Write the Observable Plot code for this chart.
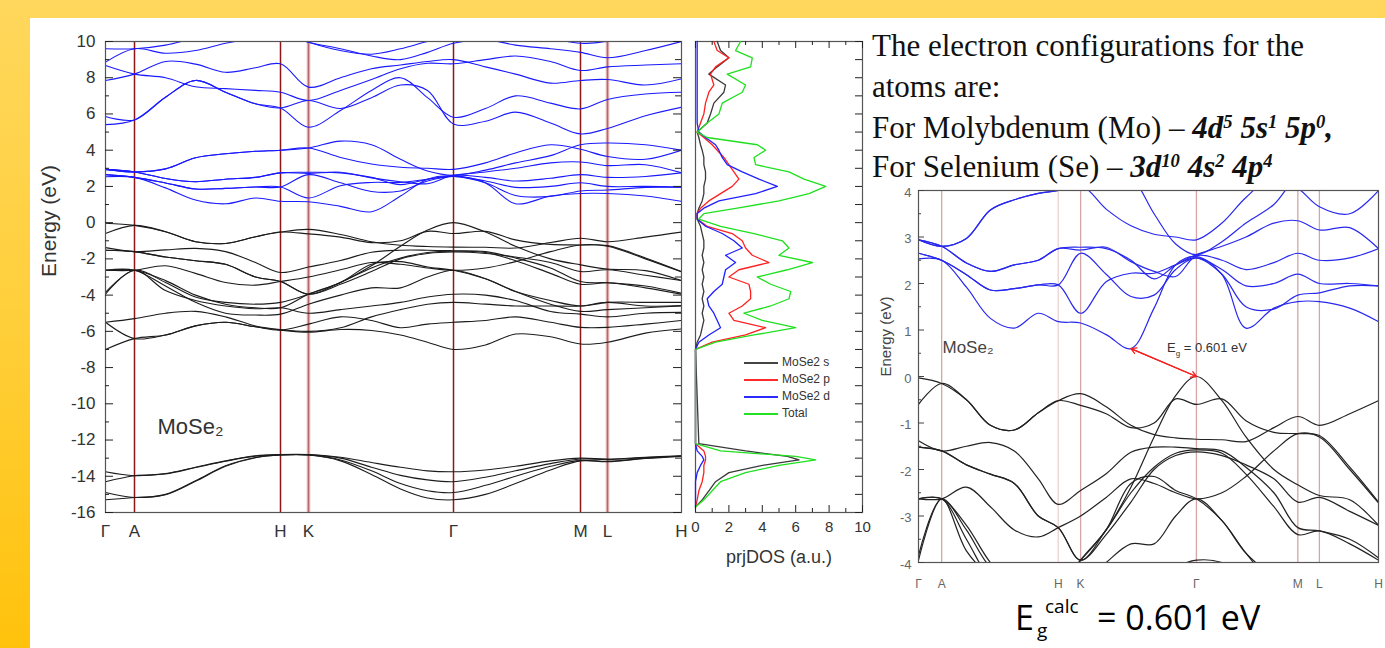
<!DOCTYPE html>
<html><head><meta charset="utf-8">
<script src="https://cdn.jsdelivr.net/npm/d3@7"></script>
<script src="https://cdn.jsdelivr.net/npm/@observablehq/plot@0.6"></script>
<style>
html,body{margin:0;padding:0;}
body{width:1385px;height:648px;position:relative;overflow:hidden;background:linear-gradient(180deg,#ffd75c 0%,#ffcf3a 50%,#ffc20c 100%);}
#panel{position:absolute;left:30px;top:18px;width:1355px;height:630px;background:#fff;}
.abs{position:absolute;}
.ser{font-family:"Liberation Serif","Times New Roman",serif;font-size:31px;line-height:24px;color:#111;white-space:nowrap;left:872px;}
sup{vertical-align:0.55em;font-size:0.6em;line-height:0;}
#legend{left:744px;top:354px;font-family:"Liberation Sans",Arial,sans-serif;font-size:12px;line-height:17px;color:#333;}
#legend .sw{display:inline-block;width:34px;height:0;vertical-align:middle;margin-right:4px;}
#egl{left:1167px;top:340px;font-family:"Liberation Sans",Arial,sans-serif;font-size:13px;color:#333;white-space:nowrap;}
#egl sub{font-size:8px;}
.cal{font-family:"Open Sans",sans-serif;color:#000;white-space:nowrap;line-height:1;}
</style></head><body>
<div id="panel"></div>
<div id="left" class="abs" style="left:30px;top:18px"></div>
<div id="dos" class="abs" style="left:680px;top:18px"></div>
<div id="right" class="abs" style="left:870px;top:180px"></div>
<div class="abs ser" style="top:33.5px">The electron configurations for the</div>
<div class="abs ser" style="top:75px">atoms are:</div>
<div class="abs ser" style="top:116px">For Molybdenum (Mo) – <b><i>4d<sup>5</sup> 5s<sup>1</sup> 5p<sup>0</sup>,</i></b></div>
<div class="abs ser" style="top:155px">For Selenium (Se) – <b><i>3d<sup>10</sup> 4s<sup>2</sup> 4p<sup>4</sup></i></b></div>
<div id="legend" class="abs">
<div><span class="sw" style="border-top:2px solid #444"></span>MoSe2 s</div>
<div><span class="sw" style="border-top:2px solid #ff2a2a"></span>MoSe2 p</div>
<div><span class="sw" style="border-top:2px solid #2a2aff"></span>MoSe2 d</div>
<div><span class="sw" style="border-top:2px solid #22e022"></span>Total</div>
</div>
<div id="egl" class="abs"></div>
<div class="abs cal" style="left:1015px;top:600px;font-size:34px">E</div>
<div class="abs cal" style="left:1045px;top:597px;font-size:19px">calc</div>
<div class="abs cal" style="left:1037px;top:621px;font-size:19px">g</div>
<div id="calv" class="abs cal" style="left:1097px;top:600px;font-size:34px"></div>
<script>
// ---------- k-path ----------
const kPos = [0, 29, 60, 90, 120, 150, 175, 203, 235, 266, 295, 322, 348, 380, 410, 445, 475, 502, 540, 576];
const symK = [0, 29, 175, 203, 348, 475, 502, 576];
const symLabels = ["Γ", "A", "H", "K", "Γ", "M", "L", "H"];

// ---------- conduction bands (eV) ----------
const cb1 = [2.53, 2.50, 1.92, 1.25, 1.04, 1.36, 1.18, 1.15, 0.90, 0.601, 1.47, 2.40, 2.58, 2.19, 1.04, 1.47, 1.61, 1.61, 1.47, 1.18];
const cb2 = [2.65, 2.50, 2.19, 1.86, 1.89, 1.97, 1.97, 1.36, 2.04, 2.22, 2.22, 2.40, 2.55, 2.20, 1.50, 1.45, 1.75, 1.80, 1.95, 1.95];
const cb3 = [2.65, 2.50, 2.19, 1.86, 1.89, 1.97, 1.97, 2.65, 2.20, 1.72, 1.75, 2.30, 2.55, 2.30, 1.95, 2.00, 2.20, 2.00, 2.00, 1.95];
const cb4 = [2.94, 2.80, 2.44, 2.26, 2.40, 2.50, 2.75, 2.72, 2.78, 2.47, 2.26, 2.15, 2.60, 2.50, 2.30, 2.45, 2.65, 2.50, 2.55, 2.75];
const cb5 = [2.94, 2.80, 2.44, 2.26, 2.40, 2.50, 2.75, 2.78, 2.75, 2.50, 2.10, 2.40, 2.62, 2.80, 3.00, 3.30, 3.35, 3.15, 3.20, 2.75];
const cb6 = [2.94, 2.80, 2.97, 3.58, 3.80, 3.94, 4.00, 4.12, 4.50, 4.30, 3.50, 2.85, 2.62, 2.90, 3.30, 3.70, 4.30, 4.40, 4.30, 4.00];
const cb7 = [2.94, 2.80, 2.97, 3.58, 3.80, 3.94, 4.00, 4.12, 3.60, 3.24, 3.06, 3.00, 2.94, 3.30, 3.85, 4.30, 4.05, 3.65, 3.50, 4.00];
const cb8 = [5.41, 5.67, 6.92, 7.85, 7.20, 6.56, 6.33, 5.27, 6.19, 7.30, 8.00, 6.90, 5.82, 6.30, 7.00, 6.60, 6.28, 6.80, 7.10, 7.20];
const cb9 = [5.86, 5.67, 6.92, 7.85, 7.20, 6.56, 6.33, 6.74, 6.30, 6.90, 7.60, 7.30, 5.45, 5.60, 6.10, 5.50, 4.90, 5.20, 5.90, 6.37];
const cb10 = [7.85, 8.20, 8.90, 8.75, 8.30, 8.55, 8.77, 7.48, 8.00, 8.50, 8.70, 8.90, 9.00, 8.60, 8.20, 7.70, 7.85, 7.90, 7.60, 7.94];
const cb11 = [8.67, 8.20, 8.00, 7.50, 7.40, 7.30, 7.20, 6.74, 7.30, 7.90, 8.50, 8.80, 8.77, 9.00, 9.20, 8.90, 8.40, 8.60, 8.70, 8.77];
const cb12 = [8.86, 9.60, 9.35, 9.50, 9.90, 10.2, 10.4, 9.96, 9.60, 9.20, 9.00, 9.40, 9.90, 10.1, 9.80, 9.60, 9.40, 9.10, 9.50, 10.0];
const cb13 = [9.60, 9.60, 9.80, 10.2, 10.5, 10.5, 10.5, 9.96, 9.50, 9.30, 9.60, 10.0, 10.3, 10.5, 10.5, 10.2, 9.90, 10.0, 10.2, 10.3];

// ---------- valence bands (eV) ----------
const vb1 = [-0.03, -0.15, -0.50, -1.05, -1.15, -0.78, -0.52, -0.37, -0.65, -1.05, -1.25, -1.32, -1.35, -1.36, -1.40, -1.10, -0.86, -1.05, -0.80, -0.52];
const vb2 = [-0.60, -0.15, -0.50, -1.05, -1.15, -0.78, -0.52, -0.62, -0.80, -1.10, -1.00, -0.48, -0.60, -0.48, -0.95, -1.20, -1.23, -1.27, -1.95, -2.70];
const vbg = [-3.85, -2.63, -3.30, -4.10, -4.40, -4.50, -4.40, -3.95, -3.30, -2.38, -1.30, -0.41, 0.00, -0.52, -1.30, -2.00, -2.33, -2.56, -2.65, -3.20];
const vb3 = [-1.38, -1.60, -1.50, -1.42, -1.60, -2.20, -2.75, -2.45, -2.09, -1.63, -1.52, -1.52, -1.55, -1.60, -1.95, -2.50, -3.25, -3.32, -3.50, -3.90];
const vb4 = [-1.52, -1.60, -1.90, -2.10, -2.30, -3.00, -3.25, -3.95, -3.30, -2.50, -1.95, -1.65, -1.58, -1.65, -2.10, -2.80, -3.40, -3.32, -3.60, -3.95];
const vb5 = [-2.63, -2.63, -2.38, -2.80, -3.30, -3.45, -3.25, -3.00, -2.60, -2.20, -2.30, -2.50, -2.63, -2.50, -2.15, -1.60, -1.23, -1.30, -2.00, -2.72];
const vb6 = [-2.63, -2.63, -3.20, -4.00, -4.50, -4.70, -4.70, -3.95, -3.30, -2.30, -2.15, -2.45, -2.63, -3.10, -3.80, -4.50, -4.90, -4.80, -4.70, -4.60];
const vb7 = [-1.52, -1.60, -1.90, -2.10, -2.30, -3.00, -3.25, -3.95, -3.40, -2.70, -2.00, -1.70, -1.62, -1.70, -1.90, -2.20, -2.70, -2.60, -2.90, -3.20];
const vb8 = [-2.63, -2.63, -3.50, -4.40, -5.00, -5.10, -5.05, -4.50, -4.00, -3.60, -3.60, -3.00, -2.63, -3.10, -3.80, -4.30, -4.60, -4.40, -4.40, -4.40];
const vd1 = [-7.00, -6.40, -6.20, -5.70, -5.50, -5.75, -5.93, -6.05, -5.90, -5.95, -6.20, -6.60, -7.00, -6.75, -6.15, -6.30, -6.70, -6.60, -6.10, -5.87];
const vd2 = [-5.50, -6.40, -6.20, -5.70, -5.50, -5.75, -5.93, -5.60, -5.20, -5.40, -5.80, -5.60, -5.50, -5.40, -5.20, -5.50, -5.78, -5.78, -5.60, -5.40];
const vd3 = [-3.95, -2.63, -3.75, -4.30, -4.60, -4.75, -4.70, -5.00, -4.80, -4.60, -4.40, -4.10, -3.95, -4.00, -4.30, -4.90, -5.05, -5.20, -5.00, -4.95];
const vd4 = [-5.50, -5.30, -5.00, -4.90, -5.20, -5.70, -5.90, -6.00, -5.80, -5.20, -4.80, -4.50, -4.40, -4.50, -4.60, -4.60, -4.60, -4.40, -4.60, -4.58];
const cc1 = [-13.75, -13.97, -13.85, -13.50, -13.15, -12.87, -12.80, -12.80, -12.95, -13.24, -13.50, -13.70, -13.75, -13.65, -13.45, -13.15, -13.00, -13.05, -12.95, -12.87];
const cc2 = [-14.30, -13.97, -13.87, -13.52, -13.17, -12.89, -12.81, -12.81, -13.00, -13.50, -13.95, -14.20, -14.30, -14.05, -13.70, -13.30, -13.05, -13.08, -12.97, -12.88];
const cc3 = [-14.90, -15.17, -15.00, -14.25, -13.42, -12.96, -12.82, -12.82, -13.10, -13.70, -14.40, -14.80, -14.90, -14.50, -14.00, -13.45, -13.12, -13.18, -13.00, -12.89];
const cc4 = [-15.30, -15.17, -15.02, -14.28, -13.45, -12.98, -12.83, -12.83, -13.15, -13.90, -14.70, -15.20, -15.30, -15.00, -14.40, -13.65, -13.15, -13.20, -13.02, -12.90];

// ---------- projected DOS ----------
const dosE = [10, 9.5, 9.1, 8.6, 8.2, 7.6, 7.2, 6.6, 6.0, 5.5, 5.0, 4.7, 4.3, 4.0, 3.6, 3.2, 2.8, 2.4, 2.0, 1.6, 1.2, 0.8, 0.5, 0.2,
  -0.2, -0.6, -1.0, -1.4, -1.8, -2.2, -2.6, -3.0, -3.4, -3.8, -4.2, -4.6, -5.0, -5.4, -5.8, -6.2, -6.6, -7.0,
  -12.2, -12.6, -12.9, -13.1, -13.4, -13.8, -14.3, -14.8, -15.3, -15.7];
const dosS = [1.3, 1.5, 2.0, 1.3, 0.8, 1.8, 1.7, 1.1, 0.9, 0.7, 0.1, 0.2, 0.3, 0.4, 0.5, 0.5, 0.6, 0.6, 0.5, 0.5, 0.4, 0.2, 0.1, 0.1,
  0.3, 0.4, 0.5, 0.5, 0.4, 0.5, 0.4, 0.5, 0.4, 0.5, 0.4, 0.5, 0.4, 0.5, 0.4, 0.3, 0.1, 0.0,
  0.2, 3.0, 5.5, 6.2, 4.0, 2.0, 1.2, 0.8, 0.4, 0.0];
const dosP = [1.1, 1.3, 2.0, 1.2, 0.9, 1.1, 0.8, 0.6, 0.5, 0.3, 0.1, 0.5, 1.0, 1.3, 1.7, 2.0, 2.3, 2.6, 2.2, 1.5, 0.8, 0.3, 0.1, 0.1,
  0.7, 2.2, 2.8, 3.0, 3.4, 4.4, 2.6, 2.0, 3.2, 3.3, 3.3, 2.8, 2.0, 2.3, 4.2, 3.0, 1.0, 0.0,
  0.0, 0.5, 0.6, 0.6, 0.5, 0.5, 0.4, 0.2, 0.1, 0.0];
const dosD = [0.1, 0.1, 0.1, 0.1, 0.1, 0.1, 0.1, 0.1, 0.1, 0.1, 0.2, 0.6, 1.2, 1.4, 1.6, 1.9, 2.8, 3.8, 4.9, 3.6, 1.4, 0.5, 0.1, 0.1,
  0.6, 1.6, 2.3, 2.8, 1.8, 2.4, 1.8, 1.7, 1.6, 1.1, 0.7, 0.8, 1.1, 1.3, 1.5, 0.8, 0.2, 0.0,
  0.0, 0.1, 0.4, 0.5, 0.3, 0.1, 0.0, 0.0, 0.0, 0.0];
const dosT = [2.7, 2.4, 3.4, 3.3, 1.9, 3.0, 2.8, 1.6, 1.4, 0.7, 0.1, 0.7, 3.7, 4.2, 3.5, 3.6, 5.6, 6.5, 7.8, 6.8, 5.0, 2.5, 0.5, 0.2,
  1.5, 3.5, 5.2, 5.6, 5.0, 7.0, 5.5, 3.7, 4.5, 5.7, 5.6, 4.5, 2.9, 4.0, 6.0, 3.5, 1.2, 0.0,
  0.0, 1.5, 6.0, 7.2, 5.0, 3.0, 1.5, 1.0, 0.5, 0.0];

// ---------- assemble ----------
const conduction = [cb1, cb2, cb3, cb4, cb5, cb6, cb7, cb8, cb9, cb10, cb11, cb12, cb13];
const valence = [vb1, vb2, vbg, vb3, vb4, vb5, vb6, vb7, vb8, vd1, vd2, vd3, vd4, cc1, cc2, cc3, cc4];
const toRows = (list, p) => list.flatMap((arr, i) => arr.map((E, j) => ({k: kPos[j], E, band: p + i})));
const condRows = toRows(conduction, "c");
const valRows = toRows(valence, "v");
const kMax = kPos[kPos.length - 1];
const inner = symK.slice(1, -1);
const innerLab = symLabels.slice(1, -1);
const pinkK = inner.filter((k, i) => innerLab[i] === "K" || innerLab[i] === "L");
const darkK = inner.filter((k, i) => !(innerLab[i] === "K" || innerLab[i] === "L"));
const font = "'Liberation Sans', Arial, sans-serif";

// ---------- left band structure ----------
{
  const W = 660, H = 560, ml = 75, mr = 9, mt = 23, mb = 66;
  const fw = W - ml - mr;
  const yMajor = d3.range(-16, 11, 2), yMinor = d3.range(-15, 10, 2);
  const p = Plot.plot({
    width: W, height: H, marginLeft: ml, marginRight: mr, marginTop: mt, marginBottom: mb,
    x: {domain: [0, kMax], axis: null},
    y: {domain: [-16, 10], axis: null},
    style: {background: "transparent", fontFamily: font, color: "#333", overflow: "visible"},
    marks: [
      Plot.ruleX(pinkK, {x: d => d, stroke: "#dcaaaa", strokeWidth: 3.5}),
      Plot.ruleX(pinkK, {x: d => d, stroke: "#b86868", strokeWidth: 1}),
      Plot.ruleX(darkK, {x: d => d, stroke: "#8e1616", strokeWidth: 1.5}),
      Plot.line(valRows, {x: "k", y: "E", z: "band", stroke: "#1c1c1c", strokeWidth: 1.1, curve: "catmull-rom", clip: true}),
      Plot.line(condRows, {x: "k", y: "E", z: "band", stroke: "#1a1aff", strokeWidth: 1.1, curve: "catmull-rom", clip: true}),
      Plot.frame({stroke: "#555", strokeWidth: 1.2}),
      Plot.tickY(yMajor, {y: d => d, insetRight: fw - 8, stroke: "#222"}),
      Plot.tickY(yMinor, {y: d => d, insetRight: fw - 4, stroke: "#222"}),
      Plot.tickY(yMajor, {y: d => d, insetLeft: fw - 8, stroke: "#222"}),
      Plot.tickY(yMinor, {y: d => d, insetLeft: fw - 6, stroke: "#222"}),
      Plot.text(yMajor, {y: d => d, text: d => String(d), frameAnchor: "left", textAnchor: "end", dx: -10, fontSize: 17}),
      Plot.text(symK, {x: d => d, text: (d, i) => symLabels[i], frameAnchor: "bottom", lineAnchor: "middle", dy: 19, fontSize: 17}),
      Plot.text(["Energy (eV)"], {frameAnchor: "left", dx: -56, rotate: -90, fontSize: 21}),
      Plot.text(["MoSe₂"], {frameAnchor: "top-left", dx: 52, dy: 392, textAnchor: "start", lineAnchor: "bottom", fontSize: 22})
    ]
  });
  document.getElementById("left").append(p);
}

// ---------- projected DOS ----------
{
  const W = 190, H = 560, ml = 15, mr = 8, mt = 23, mb = 66;
  const fw = W - ml - mr, fh = H - mt - mb;
  const yAll = d3.range(-16, 11, 1);
  const xMajor = d3.range(0, 11, 2), xMinor = d3.range(1, 10, 2);
  const series = [[dosS, "#3a3a3a"], [dosP, "#ff2020"], [dosD, "#2020ff"], [dosT, "#1ee01e"]];
  const p = Plot.plot({
    width: W, height: H, marginLeft: ml, marginRight: mr, marginTop: mt, marginBottom: mb,
    x: {domain: [0, 10], axis: null},
    y: {domain: [-16, 10], axis: null},
    style: {background: "transparent", fontFamily: font, color: "#333", overflow: "visible"},
    marks: [
      Plot.frame({stroke: "#555", strokeWidth: 1.2}),
      ...series.map(([vals, c]) => Plot.line(dosE, {x: (d, i) => vals[i], y: d => d, stroke: c, strokeWidth: 1.3})),
      Plot.tickY(yAll, {y: d => d, insetLeft: fw - 7, stroke: "#222"}),
      Plot.tickX(xMajor, {x: d => d, insetTop: fh - 7, stroke: "#222"}),
      Plot.tickX(xMinor, {x: d => d, insetTop: fh - 4, stroke: "#222"}),
      Plot.tickX(xMajor, {x: d => d, insetBottom: fh - 7, stroke: "#222"}),
      Plot.tickX(xMinor, {x: d => d, insetBottom: fh - 4, stroke: "#222"}),
      Plot.text(xMajor, {x: d => d, text: d => String(d), frameAnchor: "bottom", lineAnchor: "middle", dy: 15, fontSize: 15}),
      Plot.text(["prjDOS (a.u.)"], {frameAnchor: "bottom", lineAnchor: "middle", dy: 45, fontSize: 18})
    ]
  });
  document.getElementById("dos").append(p);
}

// ---------- zoomed band structure ----------
const cbmIdx = d3.minIndex(cb1), vbmIdx = d3.maxIndex(vbg);
const gap = cb1[cbmIdx] - vbg[vbmIdx];
{
  const W = 515, H = 420, ml = 48, mr = 7, mt = 10, mb = 38;
  const fw = W - ml - mr;
  const yMajor = d3.range(-4, 5, 1), yMinor = d3.range(-3.5, 4, 1);
  const arrowData = [{x1: kPos[cbmIdx], y1: cb1[cbmIdx], x2: kPos[vbmIdx], y2: vbg[vbmIdx]}];
  const p = Plot.plot({
    width: W, height: H, marginLeft: ml, marginRight: mr, marginTop: mt, marginBottom: mb,
    x: {domain: [0, kMax], axis: null},
    y: {domain: [-4, 4], axis: null},
    style: {background: "transparent", fontFamily: font, color: "#666", overflow: "visible"},
    marks: [
      Plot.ruleX(inner, {x: d => d, stroke: (d, i) => innerLab[i] === "H" ? "#ecd2d2" : "#d4a6a6", strokeWidth: 1.3}),
      Plot.line(valRows, {x: "k", y: "E", z: "band", stroke: "#222", strokeWidth: 1.2, curve: "catmull-rom", clip: true}),
      Plot.line(condRows, {x: "k", y: "E", z: "band", stroke: "#2828ee", strokeWidth: 1.2, curve: "catmull-rom", clip: true}),
      Plot.arrow(arrowData, {x1: "x1", y1: "y1", x2: "x2", y2: "y2", stroke: "#f42020", strokeWidth: 1.3, headLength: 7}),
      Plot.arrow(arrowData, {x1: "x2", y1: "y2", x2: "x1", y2: "y1", stroke: "#f42020", strokeWidth: 1.3, headLength: 7}),
      Plot.frame({stroke: "#555", strokeWidth: 1.2}),
      Plot.tickY(yMajor, {y: d => d, insetRight: fw - 6, stroke: "#444"}),
      Plot.tickY(yMinor, {y: d => d, insetRight: fw - 3, stroke: "#444"}),
      Plot.text(yMajor, {y: d => d, text: d => String(d), frameAnchor: "left", textAnchor: "end", dx: -7, dy: 2, fontSize: 13, fill: "#666"}),
      Plot.text(symK, {x: d => d, text: (d, i) => symLabels[i], frameAnchor: "bottom", lineAnchor: "middle", dy: 22, fontSize: 12, fill: "#666"}),
      Plot.text(["Energy (eV)"], {frameAnchor: "left", dx: -32, rotate: -90, fontSize: 15, fill: "#444"}),
      Plot.text(["MoSe₂"], {frameAnchor: "top-left", dx: 24, dy: 162, textAnchor: "start", lineAnchor: "bottom", fontSize: 17, fill: "#444"})
    ]
  });
  document.getElementById("right").append(p);
}
document.getElementById("egl").innerHTML = "E<sub>g</sub> = " + gap.toFixed(3) + " eV";
document.getElementById("calv").textContent = "= " + gap.toFixed(3) + " eV";
</script>
</body></html>
